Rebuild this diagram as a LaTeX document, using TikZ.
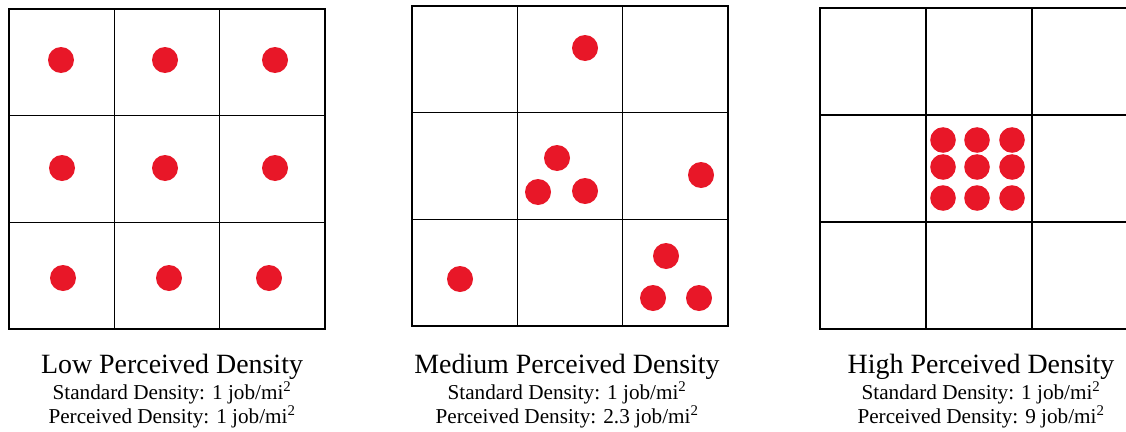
\documentclass[tikz,border=0pt]{standalone}
\usepackage{fontspec}
\setmainfont{Liberation Serif}
\usetikzlibrary{positioning}
\definecolor{jobred}{RGB}{232,23,40}
% 3x3 grid of cells: x0, y0, width, height
\newcommand{\cellgrid}[4]{%
  \draw[gridline] (#1,#2) rectangle ({#1+#3},{#2+#4});
  \foreach \k in {1,2}{
    \draw[gridline] ({#1+\k*#3/3},#2) -- ({#1+\k*#3/3},{#2+#4});
    \draw[gridline] (#1,{#2+\k*#4/3}) -- ({#1+#3},{#2+\k*#4/3});}}

\begin{document}
\begin{tikzpicture}[x=1pt,y=-1pt,
  gridline/.style={line width=1.4pt, black},
  job/.style={fill=jobred},
  title/.style={anchor=base, font=\fontsize{27.9}{32}\selectfont},
  subtitle/.style={anchor=base, font=\fontsize{21.2}{24}\selectfont}]
\clip (0,0) rectangle (1126,431);
\def\R{13}
% low perceived density
\cellgrid{9}{9}{316}{320}
\foreach \x/\y in {61/60,165/60,275/60,62/168,165/168,275/168,63/278,169/278,269/278}
  \fill[job] (\x,\y) circle (\R);
\node[title] (lowtitle) at (172,373) {Low Perceived Density};
\node[subtitle] (lowstd) at (172,399) {Standard Density: 1 job/mi\textsuperscript{2}};
\node[subtitle] (lowper) at (172,423) {Perceived Density: 1 job/mi\textsuperscript{2}};
% medium perceived density
\cellgrid{412}{6}{316}{320}
\foreach \x/\y in {585/48,557/158,538/192,585/191,701/175,460/279,666/256,653/298,699/298}
  \fill[job] (\x,\y) circle (\R);
\node[title] (medtitle) at (567,373) {Medium Perceived Density};
\node[subtitle] (medstd) at (567,399) {Standard Density: 1 job/mi\textsuperscript{2}};
\node[subtitle] (medper) at (567,423) {Perceived Density: 2.3 job/mi\textsuperscript{2}};
% high perceived density (cut at the right edge)
\cellgrid{820}{8}{318}{321}
\foreach \x in {943,977,1012}
  \foreach \y in {140,167,198}
    \fill[job] (\x,\y) circle (12.8);
\node[title] (hightitle) at (981,373) {High Perceived Density};
\node[subtitle] (highstd) at (981,399) {Standard Density: 1 job/mi\textsuperscript{2}};
\node[subtitle] (highper) at (981,423) {Perceived Density: 9 job/mi\textsuperscript{2}};
\end{tikzpicture}
\end{document}
